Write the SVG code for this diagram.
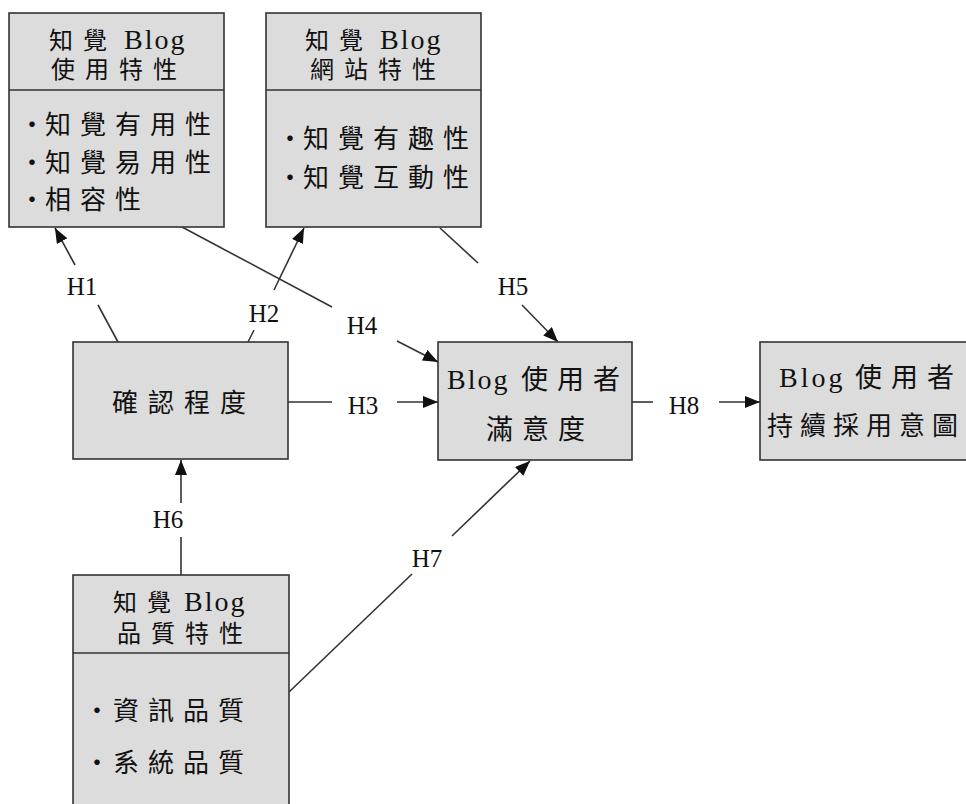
<svg xmlns="http://www.w3.org/2000/svg" width="966" height="804" viewBox="0 0 966 804">
  <style>
    .box { fill: #dcdcdc; stroke: #333; stroke-width: 1.6; }
    .div { stroke: #333; stroke-width: 1.6; }
    .cj { font-family: "Noto Sans CJK TC", "Noto Sans CJK SC", sans-serif; fill: #111; }
    .lt { font-family: "Liberation Serif", "Times New Roman", serif; fill: #111; }
    .t { font-size: 24px; letter-spacing: 10px; }
    .b { font-size: 26px; letter-spacing: 9px; }
    .bl { font-size: 28px; letter-spacing: 2px; }
    .dot { font-size: 26px; }
    .lab { font-family: "Liberation Serif", "Times New Roman", serif; font-size: 25px; fill: #111; text-anchor: middle; }
    .ln { stroke: #333; stroke-width: 1.6; fill: none; }
  </style>
  <defs>
    <marker id="arr" markerUnits="userSpaceOnUse" markerWidth="16" markerHeight="12" refX="15" refY="6" orient="auto">
      <path d="M0,0 L15,6 L0,12 z" fill="#111"/>
    </marker>
  </defs>

  <rect width="966" height="804" fill="#fff"/>

  <!-- connectors -->
  <g id="connectors">
    <!-- H1 -->
    <line class="ln" x1="118" y1="342" x2="98" y2="305"/>
    <line class="ln" x1="75" y1="265" x2="55" y2="228" marker-end="url(#arr)"/>
    <text class="lab" x="82" y="295">H1</text>
    <!-- H2 -->
    <line class="ln" x1="248" y1="342" x2="254" y2="330"/>
    <line class="ln" x1="274" y1="290" x2="304" y2="228" marker-end="url(#arr)"/>
    <text class="lab" x="264" y="322">H2</text>
    <!-- H4 -->
    <line class="ln" x1="182" y1="227" x2="332" y2="307"/>
    <line class="ln" x1="397" y1="341" x2="438" y2="362" marker-end="url(#arr)"/>
    <text class="lab" x="362" y="334">H4</text>
    <!-- H5 -->
    <line class="ln" x1="440" y1="228" x2="478" y2="263"/>
    <line class="ln" x1="522" y1="305" x2="558" y2="342" marker-end="url(#arr)"/>
    <text class="lab" x="513" y="295">H5</text>
    <!-- H3 -->
    <line class="ln" x1="288" y1="402" x2="332" y2="402"/>
    <line class="ln" x1="397" y1="402" x2="438" y2="402" marker-end="url(#arr)"/>
    <text class="lab" x="363" y="414">H3</text>
    <!-- H8 -->
    <line class="ln" x1="632" y1="402" x2="653" y2="402"/>
    <line class="ln" x1="719" y1="402" x2="760" y2="402" marker-end="url(#arr)"/>
    <text class="lab" x="684" y="414">H8</text>
    <!-- H6 -->
    <line class="ln" x1="181" y1="575" x2="181" y2="537"/>
    <line class="ln" x1="181" y1="503" x2="181" y2="460" marker-end="url(#arr)"/>
    <text class="lab" x="168" y="528">H6</text>
    <!-- H7 -->
    <line class="ln" x1="289" y1="692" x2="412" y2="574"/>
    <line class="ln" x1="452" y1="536" x2="530" y2="461" marker-end="url(#arr)"/>
    <text class="lab" x="427" y="567">H7</text>
  </g>

  <!-- perceived usage traits -->
  <g id="usage">
    <rect class="box" x="9" y="13" width="215" height="214"/>
    <line class="div" x1="9" y1="90" x2="224" y2="90"/>
    <text class="cj t" x="49" y="49">知覺</text>
    <text class="lt bl" x="124" y="49">Blog</text>
    <text class="cj t" x="51" y="78">使用特性</text>
    <text class="cj dot" x="19" y="134">‧</text>
    <text class="cj b" x="45" y="134">知覺有用性</text>
    <text class="cj dot" x="19" y="172">‧</text>
    <text class="cj b" x="45" y="172">知覺易用性</text>
    <text class="cj dot" x="19" y="209">‧</text>
    <text class="cj b" x="45" y="209">相容性</text>
  </g>

  <!-- perceived site traits -->
  <g id="site">
    <rect class="box" x="266" y="13" width="215" height="214"/>
    <line class="div" x1="266" y1="90" x2="481" y2="90"/>
    <text class="cj t" x="305" y="49">知覺</text>
    <text class="lt bl" x="380" y="49">Blog</text>
    <text class="cj t" x="310" y="78">網站特性</text>
    <text class="cj dot" x="277" y="148">‧</text>
    <text class="cj b" x="303" y="148">知覺有趣性</text>
    <text class="cj dot" x="277" y="187">‧</text>
    <text class="cj b" x="303" y="187">知覺互動性</text>
  </g>

  <!-- confirmation -->
  <g id="confirm">
    <rect class="box" x="73" y="342" width="215" height="117"/>
    <text class="cj b" x="112" y="412" style="letter-spacing:10px">確認程度</text>
  </g>

  <!-- satisfaction -->
  <g id="satisfaction">
    <rect class="box" x="438" y="342" width="194" height="118"/>
    <text class="lt bl" x="447" y="389">Blog</text>
    <text class="cj b" x="521" y="389" style="font-size:27px;letter-spacing:9px">使用者</text>
    <text class="cj b" x="486" y="439" style="font-size:27px;letter-spacing:9px">滿意度</text>
  </g>

  <!-- continuance intention -->
  <g id="intention">
    <rect class="box" x="760" y="342" width="214" height="118"/>
    <text class="lt bl" x="779" y="387" style="letter-spacing:3px">Blog</text>
    <text class="cj b" x="855" y="387" style="font-size:27px;letter-spacing:9px">使用者</text>
    <text class="cj b" x="767" y="435" style="font-size:26px;letter-spacing:7px">持續採用意圖</text>
  </g>

  <!-- perceived quality traits -->
  <g id="quality">
    <rect class="box" x="73" y="575" width="216" height="240"/>
    <line class="div" x1="73" y1="653" x2="289" y2="653"/>
    <text class="cj t" x="113" y="611">知覺</text>
    <text class="lt bl" x="184" y="611">Blog</text>
    <text class="cj t" x="117" y="642">品質特性</text>
    <text class="cj dot" x="84" y="720">‧</text>
    <text class="cj b" x="113" y="720">資訊品質</text>
    <text class="cj dot" x="84" y="772">‧</text>
    <text class="cj b" x="113" y="772">系統品質</text>
  </g>
</svg>
